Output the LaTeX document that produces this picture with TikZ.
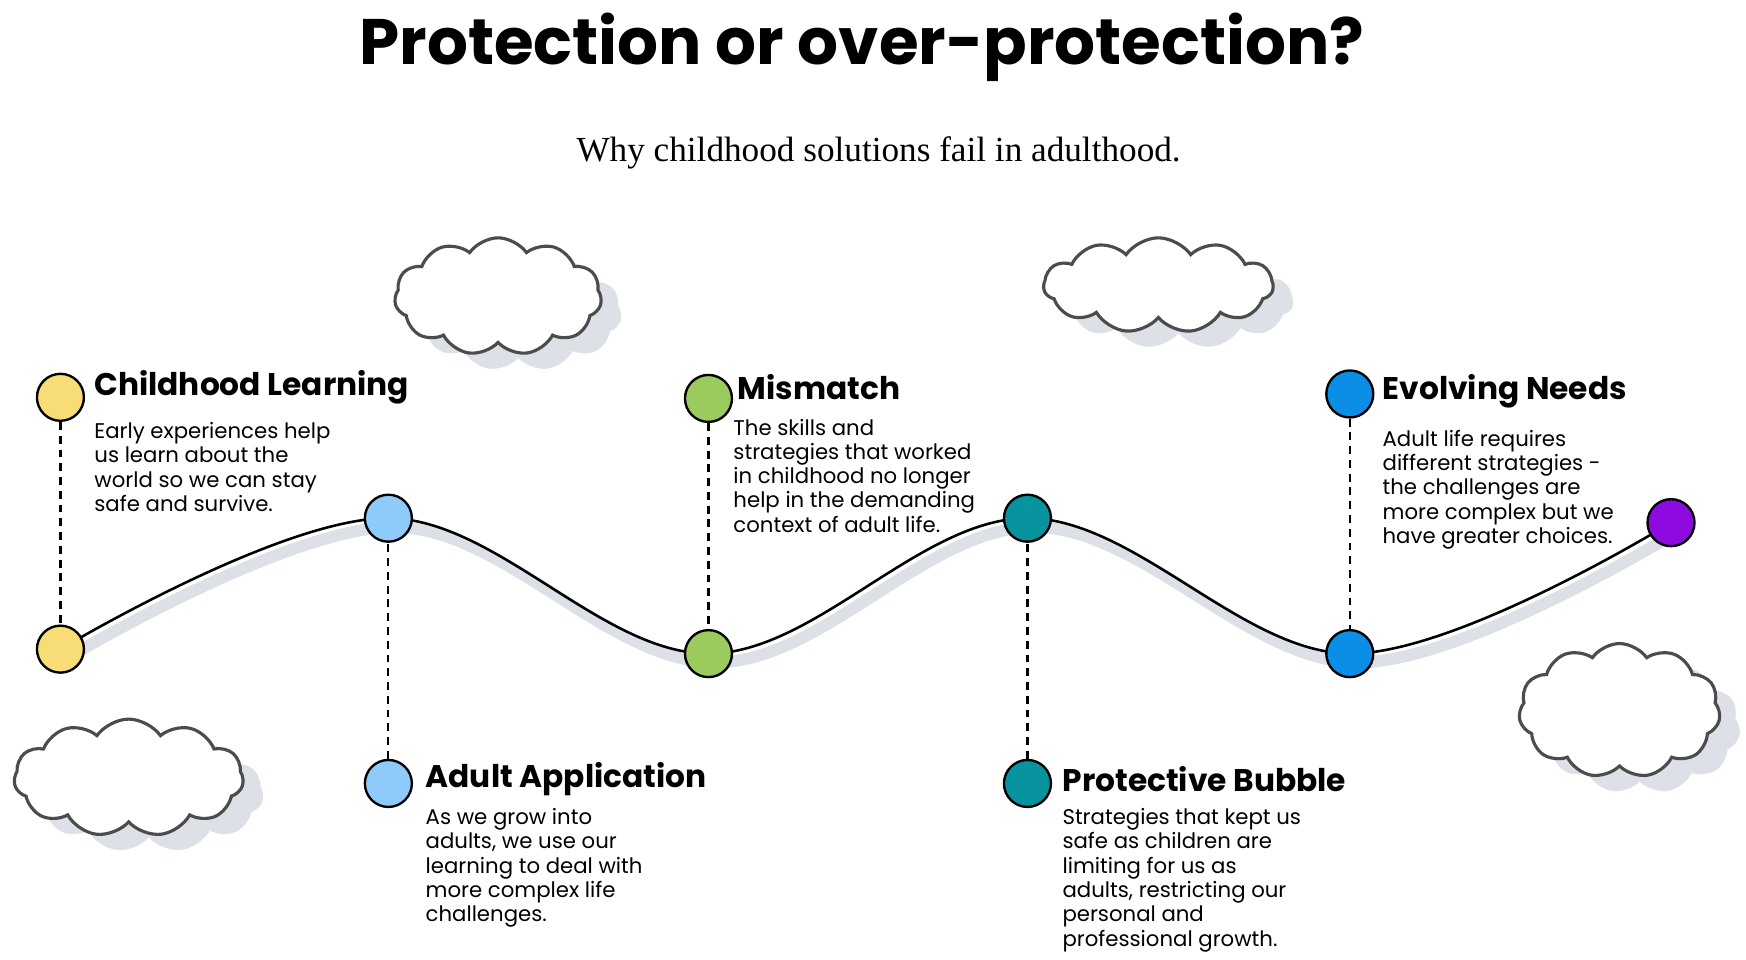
\documentclass[tikz,border=0pt]{standalone}
\usepackage{fontspec}
\setmainfont{Poppins}
\newfontfamily\subfont{Liberation Serif}
\usetikzlibrary{shapes.symbols}
\definecolor{cyel}{HTML}{F8DC75}
\definecolor{cgrn}{HTML}{9BCB5C}
\definecolor{cblu}{HTML}{0A8EE6}
\definecolor{clbl}{HTML}{8FCBFA}
\definecolor{ctea}{HTML}{07949E}
\definecolor{cpur}{HTML}{8E0BE0}
\definecolor{cshad}{HTML}{DDE0E6}
\tikzstyle{dot}=[shape=circle,minimum size=0.84cm,inner sep=0,line width=1.2pt,draw=black]
\tikzstyle{head}=[anchor=west,inner sep=0,font=\fontsize{15.9}{19}\selectfont\bfseries]
\tikzstyle{body}=[anchor=north west,inner sep=0,align=left,font=\fontsize{10.8}{12.35}\selectfont]
\tikzstyle{link}=[line width=1.1pt,dash pattern=on 4pt off 3pt]
\tikzstyle{cloudy}=[cloud,cloud puffs=11,cloud puff arc=110,aspect=1.7,draw=black!70,line width=1.6pt,fill=white]
\tikzstyle{cloudshad}=[cloud,cloud puffs=11,cloud puff arc=110,aspect=1.7,fill=cshad]
\begin{document}
\begin{tikzpicture}[x=0.02cm,y=-0.02cm]
\clip (0,0) rectangle (1560,857);
\node[font=\fontsize{32.7}{36}\selectfont\bfseries] (title) at (770,42) {Protection or over-protection?};
\node[font=\fontsize{17.9}{20}\selectfont\subfont] (sub) at (785,137) {Why childhood solutions fail in adulthood.};

% clouds
\foreach \x/\y/\w/\h in {445/265/185/105,1035/255/205/85,115/695/205/105,1447/635/180/120}{
	\node[cloudshad,minimum width=\w*0.02cm,minimum height=\h*0.02cm] at (\x+18,\y+14) {};
	\node[cloudy,minimum width=\w*0.02cm,minimum height=\h*0.02cm] at (\x,\y) {};
}

% curve
\draw[line width=6pt,cshad] plot[smooth,tension=0.6] coordinates {(60,588)(353,471)(639,592)(924,471)(1212,592)(1499,475)};
\draw[line width=1.3pt] plot[smooth,tension=0.6] coordinates {(54,580)(347,463)(633,584)(918,463)(1206,584)(1493,467)};

\node[dot,fill=cyel] (b1) at (54,580) {};
\node[dot,fill=clbl] (b2) at (347,463) {};
\node[dot,fill=cgrn] (b3) at (633,584) {};
\node[dot,fill=ctea] (b4) at (918,463) {};
\node[dot,fill=cblu] (b5) at (1206,584) {};
\node[dot,fill=cpur] (b6) at (1493,467) {};

\node[dot,fill=cyel] (t1) at (54,355) {};
\node[dot,fill=clbl] (t2) at (347,700) {};
\node[dot,fill=cgrn] (t3) at (633,356) {};
\node[dot,fill=ctea] (t4) at (918,700) {};
\node[dot,fill=cblu] (t5) at (1206,352) {};

\foreach \i in {1,...,5}{
	\draw[link] (t\i)--(b\i);
}

\node[head] (h1) at (84,346) {Childhood Learning};
\node[body] (d1) at (84,377) {Early experiences help\\us learn about the\\world so we can stay\\safe and survive.};
\node[head] (h2) at (380,696) {Adult Application};
\node[body] (d2) at (380,722) {As we grow into\\adults, we use our\\learning to deal with\\more complex life\\challenges.};
\node[head] (h3) at (659,346) {Mismatch};
\node[body] (d3) at (655,374) {The skills and\\strategies that worked\\in childhood no longer\\help in the demanding\\context of adult life.};
\node[head] (h4) at (949,696) {Protective Bubble};
\node[body] (d4) at (949,722) {Strategies that kept us\\safe as children are\\limiting for us as\\adults, restricting our\\personal and\\professional growth.};
\node[head] (h5) at (1235,350) {Evolving Needs};
\node[body] (d5) at (1235,384) {Adult life requires\\different strategies -\\the challenges are\\more complex but we\\have greater choices.};
\end{tikzpicture}
\end{document}
